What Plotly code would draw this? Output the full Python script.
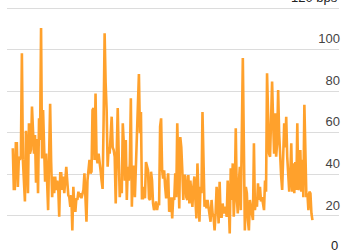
import plotly.graph_objects as go

spread_bps = [
    52.6, 33, 33, 55, 55, 34, 48.5, 47, 49, 98.4, 47, 39, 27, 61, 53, 31, 64.6, 50, 52, 72.7,
    60, 50, 59, 36, 57, 31, 67, 56.6, 110.5, 47.7, 71, 48.5, 36.5, 50, 34, 22.8, 50, 74, 46, 29,
    39, 31, 39, 32.5, 37, 34, 19.6, 40.5, 40.5, 32.5, 39, 31, 37, 43.7, 36.5, 30, 29, 24.4, 30, 13,
    34, 24.4, 22, 28.5, 27.7, 31.7, 29, 30.9, 28.5, 31.7, 32.5, 40.5, 27.7, 17.2, 37, 43.7, 47, 40.5, 41.3, 71,
    72, 47, 79, 48.5, 45.3, 50, 43.7, 42, 37, 33, 66, 108, 84, 71, 43.7, 53, 50, 61, 67.8, 53,
    51.7, 48.5, 26, 51, 72, 48.5, 29, 37, 31, 64.6, 55, 37, 56.6, 27.7, 43.7, 37, 45.3, 76.7, 24.4, 43.7,
    43.7, 29, 47, 53, 76, 88.4, 59.8, 70, 28.5, 28.5, 34, 28.5, 46, 43.7, 42, 28.5, 27.7, 41.3, 37, 26,
    22.8, 24.4, 27, 22.8, 26, 25.2, 63, 67, 42, 38, 42, 34, 28.5, 36, 40.5, 22, 23.6, 29, 18.8, 29,
    27.7, 40.5, 29, 64.6, 43.7, 23.6, 58, 53, 42, 27.7, 39.7, 39, 29, 27.7, 39.7, 26, 37, 28.5, 24.4, 34,
    39, 27.7, 18.8, 45.3, 24.4, 17.2, 34, 31, 70, 36.5, 24.4, 27.7, 23.6, 27.7, 24.4, 21.2, 17.2, 27.7, 21.2, 19.6,
    13, 21.2, 34, 27.7, 16.4, 36.5, 19.6, 19.6, 26, 21.2, 22.8, 24.4, 19.6, 37, 26, 11.6, 43, 27.7, 45.3, 19.6,
    31, 62.2, 29, 21.2, 35.7, 43.7, 22.8, 63, 96, 55, 13, 34, 31, 18, 13, 27.7, 24.4, 21.2, 18, 55,
    22.8, 27.7, 24.4, 35.7, 27.7, 34, 27, 29, 26, 22.8, 37, 31.7, 88.7, 67.8, 50, 48.5, 69.5, 84.7, 66, 50,
    69.5, 48.5, 55, 80.7, 59.8, 47, 39, 32.5, 56.6, 64.6, 53, 67.8, 48.5, 40.5, 31.7, 39, 55, 31.7, 45.3, 30.9,
    46, 32.5, 64.6, 32.5, 34, 51.7, 31.7, 47, 29, 73.5, 43.7, 29, 30.9, 22.8, 31.7, 30.9, 21.2, 18,
]
tick_values = [20, 40, 60, 80, 100, 120]
tick_labels = ["20", "40", "60", "80", "100", "120 bps"]
zero_label = "0"

n = len(spread_bps)
x_idx = list(range(n))
step = 299.0 / (n - 1)
xmin = -5.8 / step
xmax = (n - 1) + 26.5 / step

label_font = dict(family="Liberation Sans, Arial, sans-serif", size=13, color="#222222")

fig = go.Figure()
fig.add_trace(go.Scatter(
    x=x_idx, y=spread_bps, mode="lines",
    line=dict(color="#ffa12c", width=2.6),
    hoverinfo="skip",
))

annotations = [
    dict(xref="paper", yref="y", x=1, y=tick_values[-1], xanchor="right", yanchor="middle",
         yshift=11, xshift=1, text=tick_labels[-1], showarrow=False, font=label_font),
    dict(xref="paper", yref="paper", x=1, y=0, xanchor="right", yanchor="bottom",
         yshift=-5, xshift=1, text=zero_label, showarrow=False, font=label_font),
]

fig.update_layout(
    width=350, height=250,
    margin=dict(l=7, r=11, t=0, b=0),
    paper_bgcolor="white", plot_bgcolor="white",
    showlegend=False,
    font=label_font,
    xaxis=dict(range=[xmin, xmax], showgrid=False, zeroline=False, showticklabels=False,
               showline=False, ticks=""),
    yaxis=dict(range=[3.6, 124.0], side="right", tickvals=tick_values[:-1], ticktext=tick_labels[:-1],
               ticklabelposition="inside", ticklabelshift=-11, ticklabelstandoff=-4, ticks="",
               showgrid=True, gridcolor="#dcdcdc", gridwidth=1.3,
               zeroline=False, showline=False),
    annotations=annotations,
)
# gridline for 120 (tick label drawn by annotation)
fig.update_yaxes(tickvals=tick_values, ticktext=tick_labels[:-1] + [""])

fig.write_html("out.html")
